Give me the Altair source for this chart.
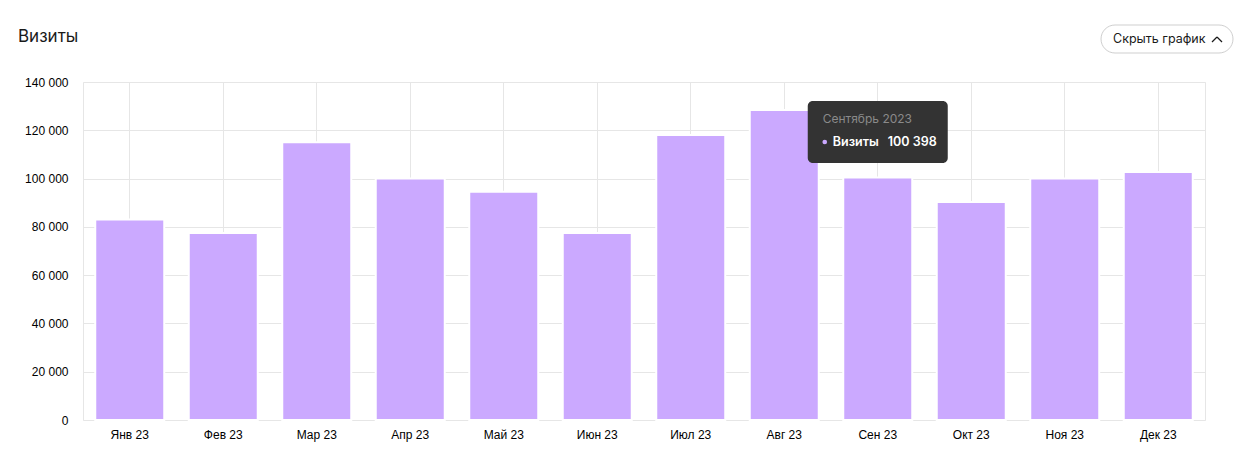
import altair as alt
import pandas as pd

months = ["Янв 23", "Фев 23", "Мар 23", "Апр 23", "Май 23", "Июн 23",
          "Июл 23", "Авг 23", "Сен 23", "Окт 23", "Ноя 23", "Дек 23"]
visits = [83000, 77500, 115000, 100000, 94500, 77500,
          118000, 128400, 100398, 90300, 100000, 102700]
y_ticks = [0, 20000, 40000, 60000, 80000, 100000, 120000, 140000]

tip_month = ["Сен 23"]
tip_label = ["Сентябрь 2023"]
tip_series = ["Визиты"]
tip_value = ["100 398"]

chart_title = ["Визиты"]
button_text = ["Скрыть график"]

df = pd.DataFrame({"month": months, "visits": visits})
tip = pd.DataFrame({"month": tip_month, "label": tip_label,
                    "series": tip_series, "value": tip_value})
one = pd.DataFrame({"t": chart_title, "b": button_text})

GRID = "#e6e6e6"
BAR = "#cba9ff"
UI_FONT = "Inter"
AX_FONT = "Liberation Sans"

xenc = alt.X("month:N", sort=months, title=None,
             scale=alt.Scale(paddingInner=0, paddingOuter=0),
             axis=alt.Axis(labelAngle=0, ticks=False, domain=False, grid=True,
                           gridColor=GRID, bandPosition=0.5, labelPadding=9,
                           labelFontSize=12, labelColor="#000", labelFont=AX_FONT))

bars = alt.Chart(df).mark_bar(width=69, color=BAR, stroke="white", strokeWidth=2).encode(
    x=xenc,
    y=alt.Y("visits:Q", title=None, scale=alt.Scale(domain=[0, 140000], nice=False),
            axis=alt.Axis(values=y_ticks, grid=True, gridColor=GRID, domain=False,
                          ticks=False, labelPadding=15, labelFontSize=12,
                          labelColor="#000", labelFont=AX_FONT,
                          labelExpr="replace(format(datum.value, ','), ',', ' ')")),
)

tip_box = alt.Chart(tip).mark_bar(width=140, color="#333333", cornerRadius=5).encode(
    x=alt.X("month:N", sort=months), y=alt.value(19), y2=alt.value(81))
tip_head = alt.Chart(tip).mark_text(align="left", baseline="middle", dx=-55, fontSize=12,
                                    font=UI_FONT, color="#8a8a8a").encode(
    x=alt.X("month:N", sort=months), y=alt.value(37), text="label:N")
tip_dot = alt.Chart(tip).mark_circle(size=22, color=BAR, opacity=1, xOffset=-53).encode(
    x=alt.X("month:N", sort=months), y=alt.value(60))
tip_series_t = alt.Chart(tip).mark_text(align="left", baseline="middle", dx=-45, fontSize=12.5,
                                        font=UI_FONT, fontWeight=600, color="white").encode(
    x=alt.X("month:N", sort=months), y=alt.value(60), text="series:N")
tip_value_t = alt.Chart(tip).mark_text(align="left", baseline="middle", dx=10, fontSize=12.5,
                                       font=UI_FONT, fontWeight=600, color="white").encode(
    x=alt.X("month:N", sort=months), y=alt.value(60), text="value:N")

title_t = alt.Chart(one).mark_text(align="left", baseline="alphabetic", fontSize=17,
                                   font=UI_FONT, color="#1a1a1a").encode(
    x=alt.value(-65), y=alt.value(-40), text="t:N")
button = alt.Chart(one).mark_rect(cornerRadius=14, fill="white", stroke="#cfcfcf",
                                  strokeWidth=1).encode(
    x=alt.value(1018), x2=alt.value(1150), y=alt.value(-57), y2=alt.value(-29))
button_t = alt.Chart(one).mark_text(align="left", baseline="middle", fontSize=12.5,
                                    font=UI_FONT, color="#1a1a1a").encode(
    x=alt.value(1030), y=alt.value(-43), text="b:N")
chev1 = alt.Chart(one).mark_rule(color="#1a1a1a", strokeWidth=1.2).encode(
    x=alt.value(1129), x2=alt.value(1134), y=alt.value(-40), y2=alt.value(-45))
chev2 = alt.Chart(one).mark_rule(color="#1a1a1a", strokeWidth=1.2).encode(
    x=alt.value(1134), x2=alt.value(1139), y=alt.value(-45), y2=alt.value(-40))

chart = alt.layer(bars, tip_box, tip_head, tip_dot, tip_series_t, tip_value_t,
                  title_t, button, button_t, chev1, chev2).properties(
    width=1122, height=338,
    autosize=alt.AutoSizeParams(type="none"),
    padding={"left": 83, "top": 82, "right": 45, "bottom": 43},
    background="white",
).configure_view(stroke=GRID, strokeWidth=1)

chart.save("out.html", embed_options={"renderer": "svg", "actions": False})
